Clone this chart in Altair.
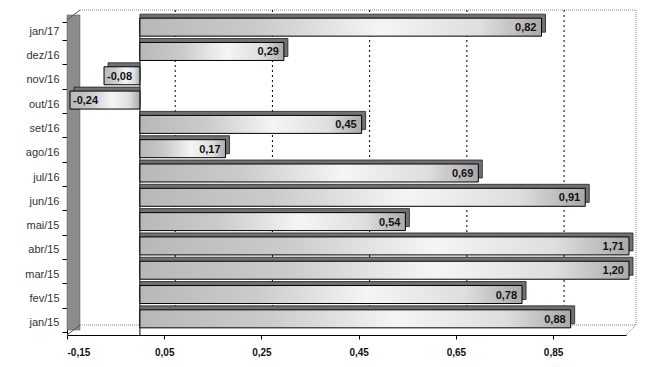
import altair as alt
import pandas as pd

months = ["jan/15", "fev/15", "mar/15", "abr/15", "mai/15", "jun/16", "jul/16",
          "ago/16", "set/16", "out/16", "nov/16", "dez/16", "jan/17"]
values = [0.88, 0.78, 1.20, 1.71, 0.54, 0.91, 0.69, 0.17, 0.45, -0.24, -0.08, 0.29, 0.82]
x_ticks = [-0.15, 0.05, 0.25, 0.45, 0.65, 0.85]
grid_ticks = [0.05, 0.25, 0.45, 0.65, 0.85]

df = pd.DataFrame({"mes": months, "v": values})
grid_df = pd.DataFrame({"v": grid_ticks})
zero_df = pd.DataFrame({"v": [0.0]})
one = pd.DataFrame({"k": [0]})

order = months[::-1]
FONT = "Liberation Sans"
W, H = 559, 316

xscale = alt.Scale(domain=[-0.15, 1.0], clamp=True, nice=False, zero=False)
yscale = alt.Scale(paddingInner=0.26, paddingOuter=0.13)
fmt = "replace(replace(format({}, '.2f'), '.', ','), '\u2212', '-')"

xaxis = alt.Axis(values=x_ticks, labelExpr=fmt.format("datum.value"), title=None, grid=False,
                 domainColor="black", tickColor="black", tickSize=4,
                 labelFont=FONT, labelFontSize=10, labelFontWeight="bold",
                 labelColor="#111", labelPadding=8)
xenc = alt.X("v:Q", scale=xscale, axis=xaxis)
yenc = alt.Y("mes:N", sort=order, scale=yscale,
             axis=alt.Axis(title=None, tickBand="extent", domainColor="black", tickColor="black",
                           tickSize=5, labelFont=FONT, labelFontSize=11, labelColor="#333",
                           labelPadding=3))

# 3D chrome: left wall, back wall border, floor
wall = alt.Chart(one).mark_rect(color="#8c8c8c", stroke="#555", strokeWidth=0.5).encode(
    x=alt.value(0), x2=alt.value(13), y=alt.value(-4), y2=alt.value(311))
wall_top = alt.Chart(one).mark_rule(color="#555").encode(
    x=alt.value(0), x2=alt.value(13), y=alt.value(1), y2=alt.value(-9))
wall_bot = alt.Chart(one).mark_rule(color="#555").encode(
    x=alt.value(0), x2=alt.value(13), y=alt.value(316), y2=alt.value(306))
back_top = alt.Chart(one).mark_rule(color="#888", strokeDash=[1, 1]).encode(
    x=alt.value(13), x2=alt.value(569), y=alt.value(-9))
back_right = alt.Chart(one).mark_rule(color="#888", strokeDash=[1, 1]).encode(
    x=alt.value(569), y=alt.value(-9), y2=alt.value(306))
floor_back = alt.Chart(one).mark_rule(color="#888", strokeDash=[1, 1]).encode(
    x=alt.value(13), x2=alt.value(569), y=alt.value(306))
floor_diag = alt.Chart(one).mark_rule(color="#888", strokeDash=[1, 1]).encode(
    x=alt.value(559), x2=alt.value(569), y=alt.value(316), y2=alt.value(306))

grid = alt.Chart(grid_df).mark_rule(color="black", strokeDash=[2, 3], xOffset=11).encode(
    x=xenc, y=alt.value(-9), y2=alt.value(306))

zero = alt.Chart(zero_df).mark_rule(color="black").encode(
    x=xenc, y=alt.value(0), y2=alt.value(H))

shade = alt.Chart(df).mark_bar(color="#707070", stroke="#222", strokeWidth=0.8,
                               xOffset=7, yOffset=-8).encode(x=xenc, x2=alt.datum(0), y=yenc)

grad = alt.Gradient(
    gradient="linear", x1=0, x2=1, y1=0, y2=0,
    stops=[alt.GradientStop(color="#b8b8b8", offset=0),
           alt.GradientStop(color="#cbcbcb", offset=0.3),
           alt.GradientStop(color="#f5f5f5", offset=0.6),
           alt.GradientStop(color="#dedede", offset=0.85),
           alt.GradientStop(color="#a9a9a9", offset=1)])
bars = alt.Chart(df).mark_bar(color=grad, stroke="black", strokeWidth=1,
                              xOffset=3, yOffset=-4).encode(x=xenc, x2=alt.datum(0), y=yenc)

lab = alt.Chart(df).transform_calculate(t=fmt.format("datum.v"))
pos_text = lab.transform_filter("datum.v >= 0").mark_text(
    align="right", baseline="middle", dx=-2, dy=-3, font=FONT, fontSize=11,
    fontWeight="bold", color="#111").encode(x=xenc, y=yenc, text="t:N")
neg_text = lab.transform_filter("datum.v < 0").mark_text(
    align="left", baseline="middle", dx=6, dy=-3, font=FONT, fontSize=11,
    fontWeight="bold", color="#111").encode(x=xenc, y=yenc, text="t:N")

chart = alt.layer(
    back_top, back_right, floor_back, floor_diag, grid, wall, wall_top, wall_bot,
    zero, shade, bars, pos_text, neg_text
).properties(
    width=W, height=H, autosize="none",
    padding={"left": 67, "top": 19, "right": 31, "bottom": 32},
    background="white"
).configure_view(stroke=None)

chart.save("out.html", embed_options={"renderer": "svg", "actions": False})
